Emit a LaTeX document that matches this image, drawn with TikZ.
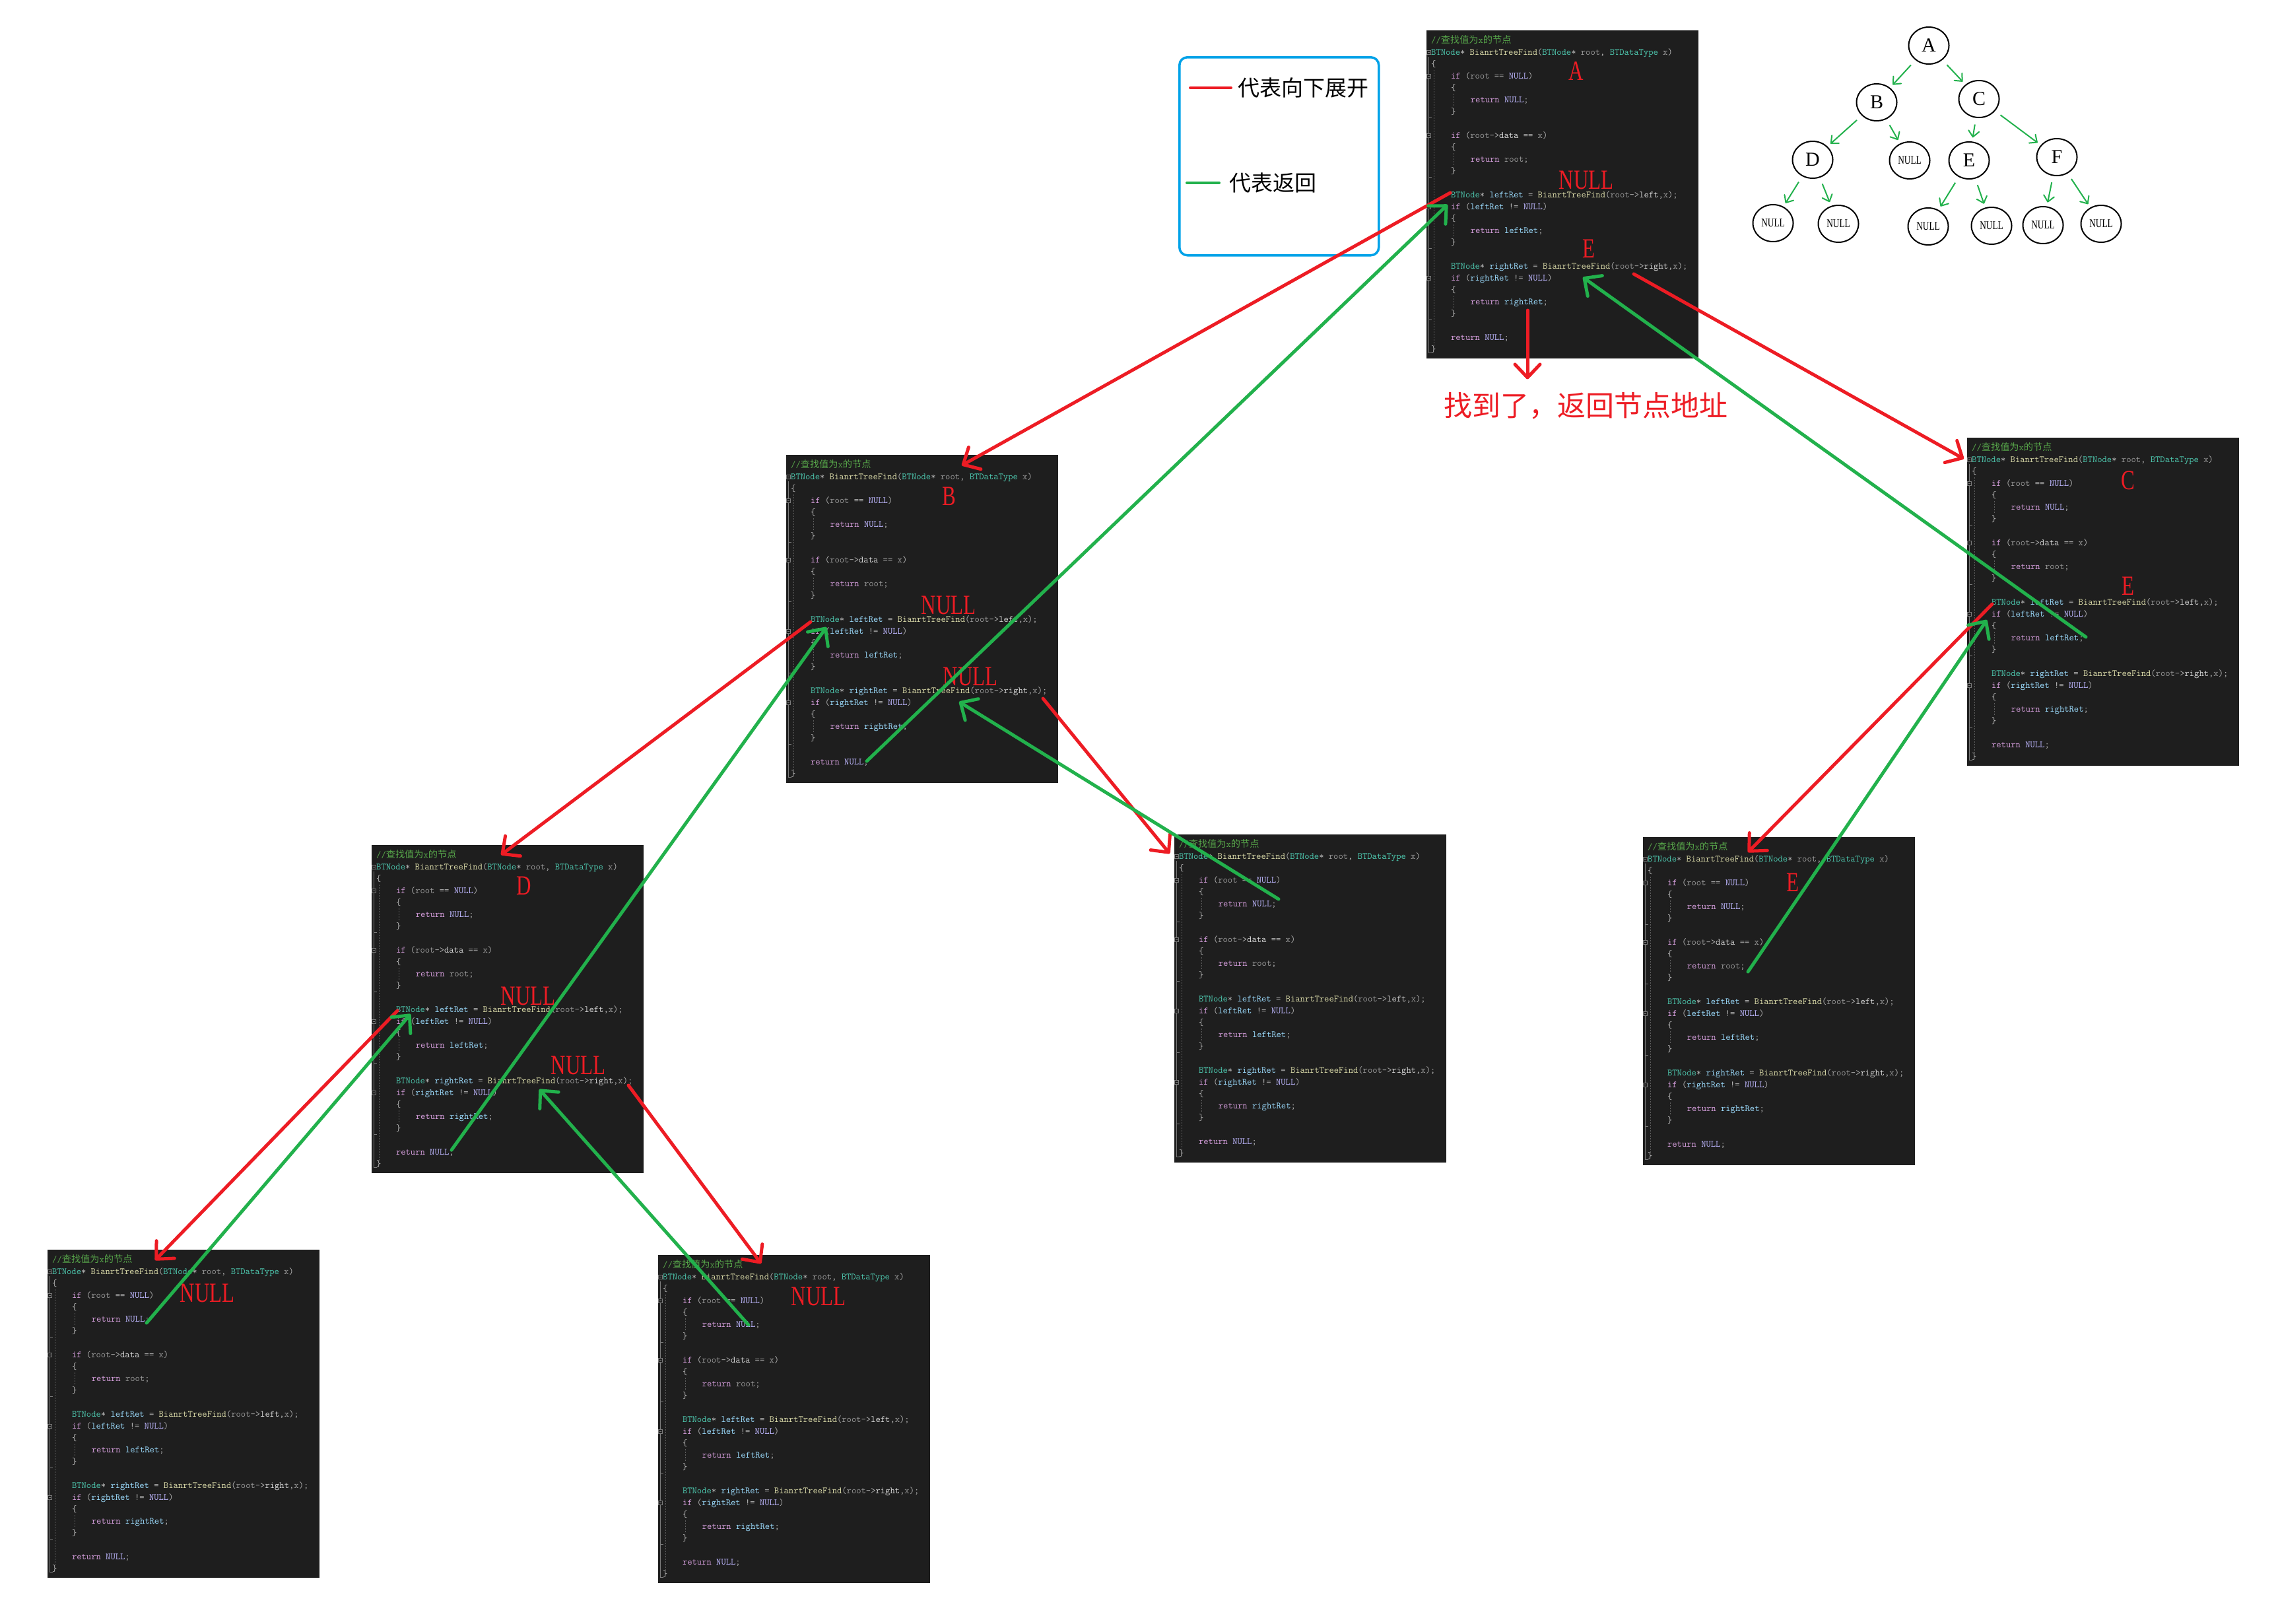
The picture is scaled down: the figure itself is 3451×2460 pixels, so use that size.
\documentclass[tikz,border=0pt]{standalone}
\usepackage{fontspec}
\usepackage{graphicx}
\usetikzlibrary{arrows.meta,shapes.geometric}
\newfontfamily\cjk{Noto Sans CJK SC}
\newfontfamily\lbl{Liberation Serif}

\definecolor{pred}{HTML}{ED1C24}
\definecolor{pgreen}{HTML}{22B14C}
\definecolor{pblue}{HTML}{00A2E8}
\definecolor{cbg}{HTML}{1E1E1E}
\definecolor{ccom}{HTML}{57A64A}
\definecolor{ctype}{HTML}{4EC9B0}
\definecolor{cfun}{HTML}{DCDCAA}
\definecolor{ckey}{HTML}{D8A0DF}
\definecolor{cmac}{HTML}{BEB7FF}
\definecolor{cvar}{HTML}{9CDCFE}
\definecolor{cpar}{HTML}{9A9A9A}
\definecolor{cpun}{HTML}{B4B4B4}
\definecolor{cmem}{HTML}{DADADA}
\definecolor{cgut}{HTML}{7A7A7A}

% colouring of the code
\newcommand\Ty[1]{{\color{ctype}#1}}
\newcommand\Fn[1]{{\color{cfun}#1}}
\newcommand\Kw[1]{{\color{ckey}#1}}
\newcommand\Nl{{\color{cmac}NULL}}
\newcommand\Vr[1]{{\color{cvar}#1}}
\newcommand\Pm[1]{{\color{cpar}#1}}
\newcommand\Mb[1]{{\color{cmem}#1}}
\newcommand\nar[1]{\scalebox{0.74}[1]{#1}}

% one line of code: line number, column, text
\newcommand\cl[3]{\node[codeln] (\bn-#1) at ({\bx+7+7.46*#2},{\by+19.5+18*#1}) {#3};}

% one screenshot of the function: name, left, top
\newcommand\codeblock[3]{%
  \def\bn{#1}\def\bx{#2}\def\by{#3}%
  \node[codebg] (#1) at (#2,#3) {};
  \draw[gutter] ({#2+3.5},{#3+40}) -- ({#2+3.5},{#3+488}) -- ({#2+8},{#3+488});
  \foreach \fl in {6.5,11.5,17.5,23.5}
    \draw[gutter] ({#2+3.5},{#3+15+18*\fl}) -- ({#2+8},{#3+15+18*\fl});
  \foreach \fl in {1,3,8,14,20}
    \draw[gutter,fill=cbg] ({#2+0.5},{#3+12+18*\fl}) rectangle ({#2+6.5},{#3+18+18*\fl})
      ({#2+2},{#3+15+18*\fl}) -- ({#2+5},{#3+15+18*\fl});
  \draw[guide] ({#2+11},{#3+60}) -- ({#2+11},{#3+478});
  \foreach \fl in {4,9,15,21}
    \draw[guide] ({#2+41},{#3+24+18*\fl}) -- ({#2+41},{#3+15+18*(\fl+2)-8});
  \cl{0}{0}{{\color{ccom}//{\cjk 查找值为}x{\cjk 的节点}}}
  \cl{1}{0}{\Ty{BTNode}* \Fn{BianrtTreeFind}(\Ty{BTNode}* \Pm{root}, \Ty{BTDataType} \Pm{x})}
  \cl{2}{0}{\{}
  \cl{3}{4}{\Kw{if} (\Pm{root} == \Nl)}
  \cl{4}{4}{\{}
  \cl{5}{8}{\Kw{return} \Nl;}
  \cl{6}{4}{\}}
  \cl{8}{4}{\Kw{if} (\Pm{root}->\Mb{data} == \Pm{x})}
  \cl{9}{4}{\{}
  \cl{10}{8}{\Kw{return} \Pm{root};}
  \cl{11}{4}{\}}
  \cl{13}{4}{\Ty{BTNode}* \Vr{leftRet} = \Fn{BianrtTreeFind}(\Pm{root}->\Mb{left},\Pm{x});}
  \cl{14}{4}{\Kw{if} (\Vr{leftRet} != \Nl)}
  \cl{15}{4}{\{}
  \cl{16}{8}{\Kw{return} \Vr{leftRet};}
  \cl{17}{4}{\}}
  \cl{19}{4}{\Ty{BTNode}* \Vr{rightRet} = \Fn{BianrtTreeFind}(\Pm{root}->\Mb{right},\Pm{x});}
  \cl{20}{4}{\Kw{if} (\Vr{rightRet} != \Nl)}
  \cl{21}{4}{\{}
  \cl{22}{8}{\Kw{return} \Vr{rightRet};}
  \cl{23}{4}{\}}
  \cl{25}{4}{\Kw{return} \Nl;}
  \cl{26}{0}{\}}
}

\begin{document}
\begin{tikzpicture}[x=1pt,y=-1pt,
  codebg/.style={fill=cbg,anchor=north west,minimum width=412pt,minimum height=497pt,inner sep=0pt},
  codeln/.style={anchor=base west,inner sep=0pt,text=cpun,font=\ttfamily\fontsize{14.2}{18}\selectfont},
  gutter/.style={draw=cgut,line width=0.8pt},
  guide/.style={draw=cgut!70!cbg,line width=0.7pt,dash pattern=on 2pt off 2pt},
  redlbl/.style={text=pred,inner sep=0pt,font=\lbl\fontsize{42}{42}\selectfont},
  redarr/.style={draw=pred,line width=5pt,line cap=round,-{Straight Barb[length=20pt,width=38pt,round]}},
  grnarr/.style={draw=pgreen,line width=5pt,line cap=round,-{Straight Barb[length=20pt,width=38pt,round]}},
  tnode/.style={ellipse,draw=black,line width=2pt,minimum width=61pt,minimum height=56pt,inner sep=0pt,font=\lbl\fontsize{30}{30}\selectfont},
  tnull/.style={tnode,font=\lbl\fontsize{18}{18}\selectfont},
  tedge/.style={draw=pgreen,line width=2pt,-{Straight Barb[length=9pt,width=16pt,round]},shorten <=10pt,shorten >=6pt},
  lgtext/.style={anchor=west,inner sep=0pt,font=\cjk\fontsize{33}{33}\selectfont}]
\fill[white] (0,0) rectangle (3451,2460);
\useasboundingbox (0,0) rectangle (3451,2460);

% legend
\node[draw=pblue,line width=3.5pt,rounded corners=12pt,anchor=north west,minimum width=302pt,minimum height=300pt] (legend) at (1785,85) {};
\node[lgtext] (lg1) at (1875,133) {代表向下展开};
\node[lgtext] (lg2) at (1862,277) {代表返回};
\draw[draw=pred,line width=4pt,line cap=round] ([xshift=-10pt]lg1.west) -- ([xshift=-72pt]lg1.west);
\draw[draw=pgreen,line width=4pt,line cap=round] ([xshift=-15pt]lg2.west) -- ([xshift=-64pt]lg2.west);

% the tree
\node[tnode] (tA) at (2922,69) {A};
\node[tnode] (tB) at (2843,155) {B};
\node[tnode] (tC) at (2998,150) {C};
\node[tnode] (tD) at (2746,242) {D};
\node[tnull] (tN0) at (2893,243) {\nar{NULL}};
\node[tnode] (tE) at (2983,243) {E};
\node[tnode] (tF) at (3116,238) {F};
\node[tnull] (tN1) at (2686,338) {\nar{NULL}};
\node[tnull] (tN2) at (2785,339) {\nar{NULL}};
\node[tnull] (tN3) at (2921,343) {\nar{NULL}};
\node[tnull] (tN4) at (3017,342) {\nar{NULL}};
\node[tnull] (tN5) at (3095,341) {\nar{NULL}};
\node[tnull] (tN6) at (3183,339) {\nar{NULL}};
\draw[tedge] (tA) -- (tB);
\draw[tedge] (tA) -- (tC);
\draw[tedge] (tB) -- (tD);
\draw[tedge] (tB) -- (tN0);
\draw[tedge] (tC) -- (tE);
\draw[tedge] (tC) -- (tF);
\draw[tedge] (tD) -- (tN1);
\draw[tedge] (tD) -- (tN2);
\draw[tedge] (tE) -- (tN3);
\draw[tedge] (tE) -- (tN4);
\draw[tedge] (tF) -- (tN5);
\draw[tedge] (tF) -- (tN6);

% the calls
\codeblock{A}{2161}{46}
\codeblock{B}{1191}{689}
\codeblock{C}{2980}{663}
\codeblock{D}{563}{1280}
\codeblock{BN}{1779}{1264}
\codeblock{E}{2489}{1268}
\codeblock{DN1}{72}{1893}
\codeblock{DN2}{997}{1901}

\node[redlbl] (A-t) at ([shift={(227,62)}]A.north west) {\nar{A}};
\node[redlbl] (A-n) at ([shift={(242,227)}]A.north west) {\nar{NULL}};
\node[redlbl] (A-e) at ([shift={(246,331)}]A.north west) {\nar{E}};
\node[redlbl] (B-t) at ([shift={(247,63)}]B.north west) {\nar{B}};
\node[redlbl] (B-n1) at ([shift={(246,228)}]B.north west) {\nar{NULL}};
\node[redlbl] (B-n2) at ([shift={(279,336)}]B.north west) {\nar{NULL}};
\node[redlbl] (C-t) at ([shift={(244,65)}]C.north west) {\nar{C}};
\node[redlbl] (C-e) at ([shift={(244,225)}]C.north west) {\nar{E}};
\node[redlbl] (D-t) at ([shift={(231,62)}]D.north west) {\nar{D}};
\node[redlbl] (D-n1) at ([shift={(237,229)}]D.north west) {\nar{NULL}};
\node[redlbl] (D-n2) at ([shift={(313,334)}]D.north west) {\nar{NULL}};
\node[redlbl] (E-t) at ([shift={(227,69)}]E.north west) {\nar{E}};
\node[redlbl] (DN1-n) at ([shift={(242,66)}]DN1.north west) {\nar{NULL}};
\node[redlbl] (DN2-n) at ([shift={(243,63)}]DN2.north west) {\nar{NULL}};
\node[text=pred,inner sep=0pt,font=\cjk\fontsize{43}{43}\selectfont] (found) at (2402,615) {找到了，返回节点地址};

% where the arrows start and end
\coordinate (A-lc) at ([shift={(36,246)}]A.north west);
\coordinate (A-rc) at ([shift={(314,369)}]A.north west);
\coordinate (A-dn) at ([shift={(153,424)}]A.north west);
\coordinate (A-lr) at ([shift={(32,264)}]A.north west);
\coordinate (A-rr) at ([shift={(237,374)}]A.north west);
\coordinate (B-in) at ([shift={(266,16)}]B.north west);
\coordinate (B-lc) at ([shift={(37,253)}]B.north west);
\coordinate (B-rc) at ([shift={(389,369)}]B.north west);
\coordinate (B-lr) at ([shift={(61,261)}]B.north west);
\coordinate (B-rr) at ([shift={(262,374)}]B.north west);
\coordinate (B-out) at ([shift={(122,464)}]B.north west);
\coordinate (C-in) at ([shift={(-5,32)}]C.north west);
\coordinate (C-lc) at ([shift={(38,252)}]C.north west);
\coordinate (C-lr) at ([shift={(30,276)}]C.north west);
\coordinate (C-out) at ([shift={(180,302)}]C.north west);
\coordinate (D-in) at ([shift={(196,15)}]D.north west);
\coordinate (D-lc) at ([shift={(39,251)}]D.north west);
\coordinate (D-rc) at ([shift={(389,364)}]D.north west);
\coordinate (D-lr) at ([shift={(59,256)}]D.north west);
\coordinate (D-rr) at ([shift={(254,370)}]D.north west);
\coordinate (D-out) at ([shift={(121,462)}]D.north west);
\coordinate (BN-in) at ([shift={(-7,29)}]BN.north west);
\coordinate (BN-out) at ([shift={(158,98)}]BN.north west);
\coordinate (E-in) at ([shift={(159,23)}]E.north west);
\coordinate (E-out) at ([shift={(159,204)}]E.north west);
\coordinate (DN1-in) at ([shift={(163,16)}]DN1.north west);
\coordinate (DN1-out) at ([shift={(150,111)}]DN1.north west);
\coordinate (DN2-in) at ([shift={(156,13)}]DN2.north west);
\coordinate (DN2-out) at ([shift={(137,106)}]DN2.north west);

% going down
\draw[redarr] (A-lc) -- (B-in);
\draw[redarr] (A-rc) -- (C-in);
\draw[redarr,shorten >=20pt] (A-dn) -- (A-dn |- found.north);
\draw[redarr] (B-lc) -- (D-in);
\draw[redarr] (B-rc) -- (BN-in);
\draw[redarr] (D-lc) -- (DN1-in);
\draw[redarr] (D-rc) -- (DN2-in);
\draw[redarr] (C-lc) -- (E-in);
% coming back
\draw[grnarr] (DN1-out) -- (D-lr);
\draw[grnarr] (DN2-out) -- (D-rr);
\draw[grnarr] (D-out) -- (B-lr);
\draw[grnarr] (BN-out) -- (B-rr);
\draw[grnarr] (B-out) -- (A-lr);
\draw[grnarr] (E-out) -- (C-lr);
\draw[grnarr] (C-out) -- (A-rr);
\end{tikzpicture}
\end{document}
